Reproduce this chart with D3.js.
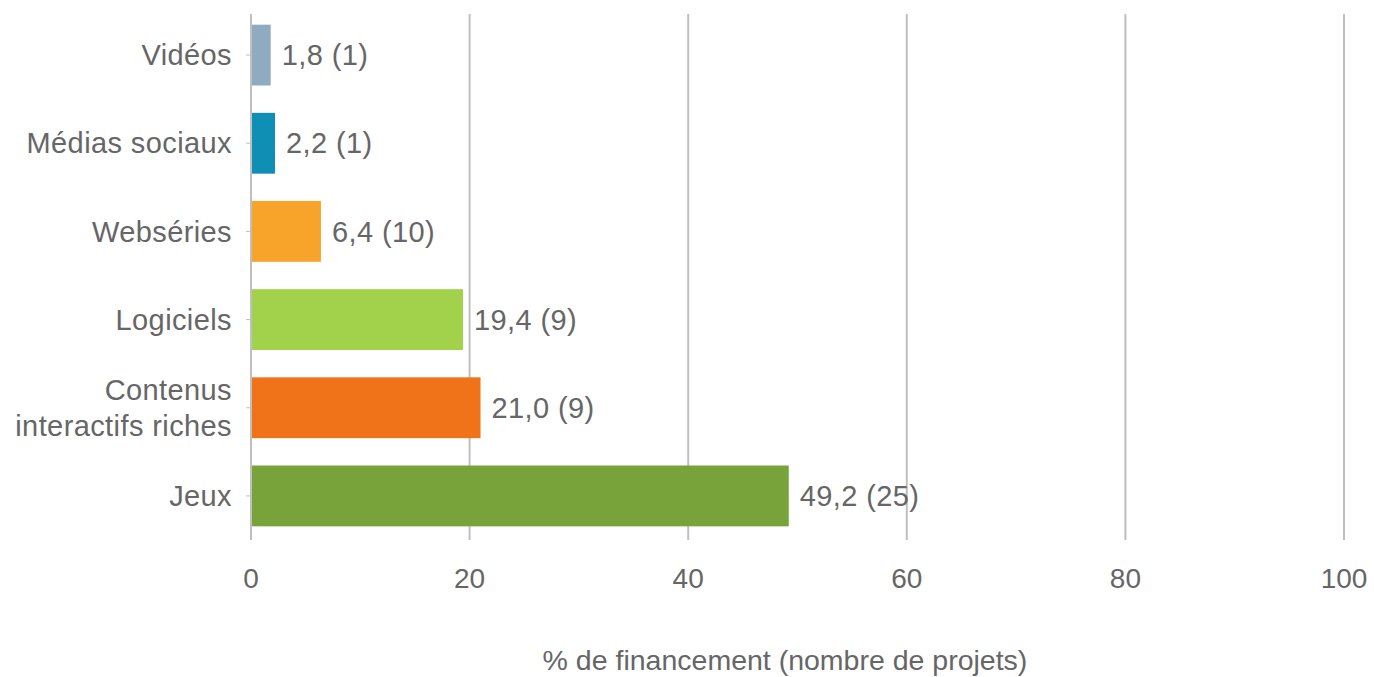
<!DOCTYPE html>
<html>
<head>
<meta charset="utf-8">
<script src="https://cdn.jsdelivr.net/npm/d3@7"></script>
<style>
  body { margin: 0; background: #fff; }
  svg text { font-family: "Liberation Sans", Arial, sans-serif; fill: #666666; }
</style>
</head>
<body>
<div id="chart"></div>
<script>
const categories = ["Vidéos", "Médias sociaux", "Webséries", "Logiciels", "Contenus\ninteractifs riches", "Jeux"];
const pctValues = [1.8, 2.2, 6.4, 19.4, 21.0, 49.2];
const projectCounts = [1, 1, 10, 9, 9, 25];
const barColors = ["#8fabc0", "#0f8fb4", "#f8a42a", "#a2d14b", "#f07219", "#78a33a"];
const xTicks = [0, 20, 40, 60, 80, 100];

const width = 1374, height = 677;
const margins = {top: 11, right: 30, bottom: 137, left: 251};

const svg = d3.select("#chart").append("svg")
  .attr("width", width)
  .attr("height", height);

const xScale = d3.scaleLinear()
  .domain([0, 100])
  .range([margins.left, 1344]);

const yScale = d3.scaleBand()
  .domain(d3.range(categories.length))
  .range([margins.top, height - margins.bottom])
  .paddingInner(0.31)
  .paddingOuter(0.155);

const fmt = v => v.toFixed(1).replace(".", ",");

// vertical gridlines (incl. the zero axis)
svg.append("g")
  .selectAll("line")
  .data(xTicks)
  .join("line")
    .attr("x1", d => xScale(d))
    .attr("x2", d => xScale(d))
    .attr("y1", 14)
    .attr("y2", height - margins.bottom)
    .attr("stroke", "#bfbfbf")
    .attr("stroke-width", 2);

// small category ticks left of the axis
svg.append("g")
  .selectAll("line")
  .data(categories)
  .join("line")
    .attr("x1", xScale(0) - 5)
    .attr("x2", xScale(0))
    .attr("y1", (d, i) => yScale(i) + yScale.bandwidth() / 2)
    .attr("y2", (d, i) => yScale(i) + yScale.bandwidth() / 2)
    .attr("stroke", "#bfbfbf")
    .attr("stroke-width", 1);

// bars
svg.append("g")
  .selectAll("rect")
  .data(pctValues)
  .join("rect")
    .attr("x", xScale(0) + 1)
    .attr("y", (d, i) => yScale(i))
    .attr("width", d => xScale(d) - xScale(0) - 1)
    .attr("height", yScale.bandwidth())
    .attr("fill", (d, i) => barColors[i]);

// value labels
svg.append("g")
  .selectAll("text")
  .data(pctValues)
  .join("text")
    .attr("x", d => xScale(d) + 11)
    .attr("y", (d, i) => yScale(i) + yScale.bandwidth() / 2)
    .attr("dy", "0.35em")
    .attr("font-size", 29)
    .attr("letter-spacing", 0.4)
    .text((d, i) => fmt(d) + " (" + projectCounts[i] + ")");

// category labels
const catG = svg.append("g");
categories.forEach(function(c, i) {
  const lines = c.split("\n");
  const cy = yScale(i) + yScale.bandwidth() / 2;
  const lh = 36;
  const t = catG.append("text")
    .attr("x", xScale(0) - 19)
    .attr("text-anchor", "end")
    .attr("font-size", 29)
    .attr("letter-spacing", 0.4);
  lines.forEach(function(l, j) {
    t.append("tspan")
      .attr("x", xScale(0) - 19)
      .attr("y", cy + (j - (lines.length - 1) / 2) * lh)
      .attr("dy", "0.35em")
      .text(l);
  });
});

// x tick labels
svg.append("g")
  .selectAll("text")
  .data(xTicks)
  .join("text")
    .attr("x", d => xScale(d))
    .attr("y", 578)
    .attr("dy", "0.35em")
    .attr("text-anchor", "middle")
    .attr("font-size", 28)
    .text(d => d);

// axis title
svg.append("text")
  .attr("x", 785)
  .attr("y", 660)
  .attr("dy", "0.35em")
  .attr("text-anchor", "middle")
  .attr("font-size", 28.5)
  .text("% de financement (nombre de projets)");
</script>
</body>
</html>
